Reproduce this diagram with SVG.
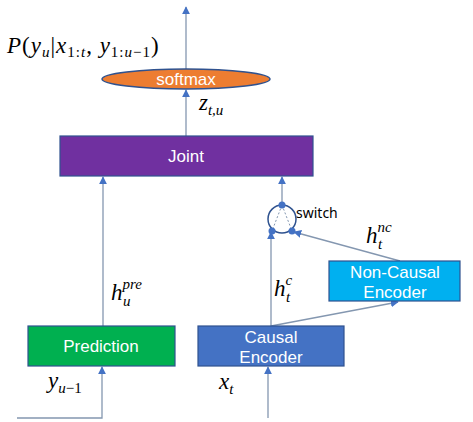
<svg xmlns="http://www.w3.org/2000/svg" width="473" height="422" viewBox="0 0 473 422">
<defs>
<marker id="ah" viewBox="0 0 10 10" refX="9" refY="5" markerWidth="8" markerHeight="8" orient="auto" markerUnits="userSpaceOnUse">
<path d="M0,0 L10,5 L0,10 z" fill="#4472C4"/>
</marker>
</defs>
<style>
.box{stroke:#2F528F;stroke-width:1.2}
.lbl{font-family:"Liberation Sans",Arial,sans-serif;font-size:17px;fill:#fff;text-anchor:middle}
.m{font-family:"Liberation Serif",serif;font-style:italic;font-size:23px;fill:#000}
.s{font-size:15px}
.c{stroke:#8497B0;stroke-width:1.3;fill:none}
.dot{fill:#4472C4}
</style>
<rect width="473" height="422" fill="#fff"/>
<g id="connectors">
<line class="c" x1="186" y1="69" x2="186" y2="7" marker-end="url(#ah)"/>
<line class="c" x1="186" y1="136" x2="186" y2="90" marker-end="url(#ah)"/>
<line class="c" x1="103" y1="326" x2="103" y2="177" marker-end="url(#ah)"/>
<line class="c" x1="282" y1="205" x2="282" y2="177" marker-end="url(#ah)"/>
<line class="c" x1="271" y1="326" x2="271" y2="232" marker-end="url(#ah)"/>
<line class="c" x1="271" y1="326" x2="398" y2="302" marker-end="url(#ah)"/>
<line class="c" x1="400" y1="261" x2="294" y2="232" marker-end="url(#ah)"/>
<polyline class="c" points="17,418 102,418 102,367" marker-end="url(#ah)"/>
<line class="c" x1="268" y1="418" x2="268" y2="367" marker-end="url(#ah)"/>
</g>
<g id="softmax">
<ellipse cx="186" cy="79" rx="84" ry="10" fill="#ED7D31" stroke="#2F528F" stroke-width="1.5"/>
<text class="lbl" x="186" y="85">softmax</text>
</g>
<g id="joint">
<rect class="box" x="60" y="136" width="253" height="40" fill="#7030A0"/>
<text class="lbl" x="186" y="162">Joint</text>
</g>
<g id="switch">
<circle cx="282" cy="219" r="14" fill="none" stroke="#2F528F" stroke-width="1.5"/>
<line x1="282" y1="205" x2="272" y2="231" stroke="#8497B0" stroke-width="1" stroke-dasharray="2,2"/>
<line x1="282" y1="205" x2="292" y2="231" stroke="#8497B0" stroke-width="1" stroke-dasharray="2,2"/>
<circle class="dot" cx="282" cy="205" r="3.5"/>
<circle class="dot" cx="272" cy="231" r="3.5"/>
<circle class="dot" cx="292" cy="231" r="3.5"/>
<text x="296" y="218" font-family="Noto Sans, sans-serif" font-size="14" fill="#000">switch</text>
</g>
<g id="noncausal">
<rect class="box" x="329" y="261" width="131" height="40" fill="#00B0F0"/>
<text class="lbl" x="395" y="278">Non-Causal</text>
<text class="lbl" x="395" y="298">Encoder</text>
</g>
<g id="prediction">
<rect class="box" x="28" y="326" width="147" height="40" fill="#00B050"/>
<text class="lbl" x="101" y="352">Prediction</text>
</g>
<g id="causal">
<rect class="box" x="198" y="326" width="146" height="40" fill="#4472C4"/>
<text class="lbl" x="271" y="343">Causal</text>
<text class="lbl" x="271" y="363">Encoder</text>
</g>
<g id="labels">
<text class="m" x="7" y="53" letter-spacing="1">P<tspan font-style="normal">(</tspan>y<tspan class="s" dy="4">u</tspan><tspan dy="-4" font-style="normal">|</tspan>x<tspan class="s" dy="4" font-style="normal">1:</tspan><tspan class="s">t</tspan><tspan dy="-4" font-style="normal">, </tspan>y<tspan class="s" dy="4" font-style="normal">1:</tspan><tspan class="s">u</tspan><tspan class="s" font-style="normal">−1</tspan><tspan dy="-4" font-style="normal">)</tspan></text>
<text class="m" x="199" y="110">z<tspan class="s" dy="5">t,u</tspan></text>
<text class="m" x="111" y="300">h<tspan class="s" dy="-11">pre</tspan></text>
<text class="m s" x="123" y="306">u</text>
<text class="m" x="274" y="296">h<tspan class="s" dy="-11">c</tspan></text>
<text class="m s" x="286" y="302">t</text>
<text class="m" x="366" y="243">h<tspan class="s" dy="-11">nc</tspan></text>
<text class="m s" x="378" y="249">t</text>
<text class="m" x="48" y="388">y<tspan class="s" dy="5">u</tspan><tspan class="s" font-style="normal">−1</tspan></text>
<text class="m" x="219" y="389">x<tspan class="s" dy="5">t</tspan></text>
</g>
</svg>
